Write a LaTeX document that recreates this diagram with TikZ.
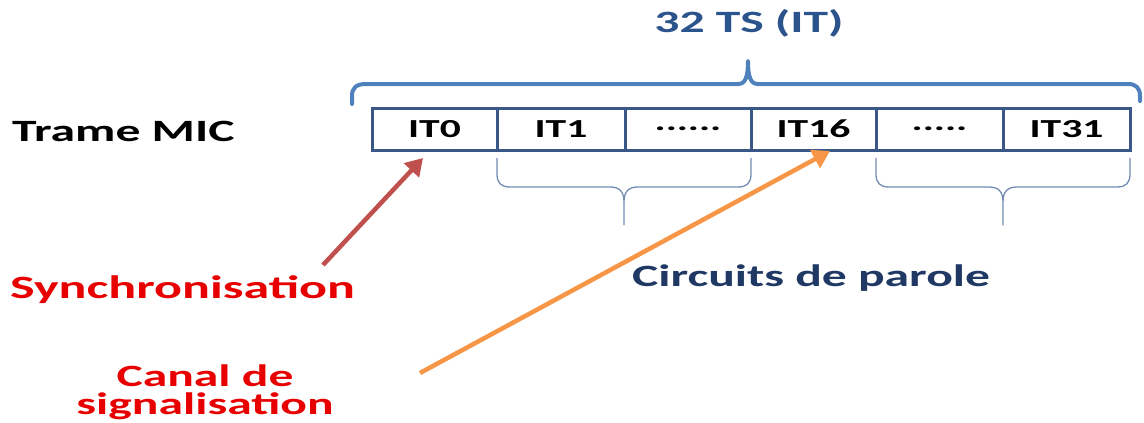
\documentclass[tikz,border=0pt]{standalone}
\usepackage{fontspec}
\setmainfont{Carlito}[FakeStretch=1.6]
\usetikzlibrary{arrows.meta}
\definecolor{titleblue}{RGB}{44,84,140}
\definecolor{cellblue}{RGB}{58,88,135}
\definecolor{bracetop}{RGB}{79,129,189}
\definecolor{bracelow}{RGB}{115,140,180}
\definecolor{darkblue}{RGB}{31,56,100}
\definecolor{txtred}{RGB}{232,0,0}
\definecolor{syncred}{RGB}{192,80,77}
\definecolor{orangearr}{RGB}{247,150,70}
\tikzset{
  bigtext/.style={inner sep=0pt, font=\fontsize{31}{36}\selectfont\bfseries},
  cell/.style={draw=cellblue, line width=3pt, minimum height=42pt, inner sep=0pt,
               font=\fontsize{26}{30}\selectfont\bfseries},
  lowbrace/.pic={
    \draw[bracelow, line width=1.3pt, line join=round]
      (0,0) -- (0,16) .. controls (0,25) and (4,29) .. (13,29) -- (113,29)
      .. controls (122,29) and (127,33) .. (127,44) -- (127,67)
      -- (127,44) .. controls (127,33) and (132,29) .. (141,29) -- (241,29)
      .. controls (250,29) and (254,25) .. (254,16) -- (254,0);
  },
  arrowline/.style={line width=4.5pt, -{Triangle[length=17pt,width=20pt]}, shorten >=0pt}
}
\begin{document}
\begin{tikzpicture}[x=1pt,y=-1pt]
\useasboundingbox (0,0) rectangle (1144,423);
% title
\node[bigtext, text=titleblue] (title) at (749,23) {32 TS (IT)};
% top brace
\draw[bracetop, line width=4pt, line cap=round, line join=round]
  (352,104) -- (352,96) .. controls (352,88) and (356,84) .. (366,84) -- (738,84)
  .. controls (745,84) and (748,78) .. (748,61)
  .. controls (748,78) and (751,84) .. (758,84) -- (1128,84)
  .. controls (1136,84) and (1140,88) .. (1140,96) -- (1140,101);
% label
\node[bigtext, anchor=west] (trame) at (12,131) {Trame MIC};
% cells
\node[cell, minimum width=125pt] (c0) at (434.5,129) {IT0};
\node[cell, minimum width=128pt] (c1) at (561,129) {IT1};
\node[cell, minimum width=126pt] (c2) at (688,129) {......};
\node[cell, minimum width=125pt] (c3) at (813.5,129) {IT16};
\node[cell, minimum width=127pt] (c4) at (939.5,129) {.....};
\node[cell, minimum width=127pt] (c5) at (1066.5,129) {IT31};
% lower braces
\pic at (497,158) {lowbrace};
\pic at (876,158) {lowbrace};
% texts
\node[bigtext, text=txtred, anchor=west, font=\fontsize{32.5}{36}\selectfont\bfseries] (sync) at (10,290) {Synchronisation};
\node[bigtext, text=darkblue, anchor=west] (circ) at (632,278) {Circuits de parole};
\node[bigtext, text=txtred, anchor=base] (canal) at (205,386) {Canal de};
\node[bigtext, text=txtred, anchor=base] (signal) at (205,414) {signalisation};
% arrows
\coordinate (synctail) at (323,265);
\coordinate (synctip) at (423,158);
\coordinate (sigtail) at (420,373);
\coordinate (sigtip) at (830,151);
\draw[arrowline, syncred] (synctail) -- (synctip);
\draw[arrowline, orangearr] (sigtail) -- (sigtip);
\end{tikzpicture}
\end{document}
